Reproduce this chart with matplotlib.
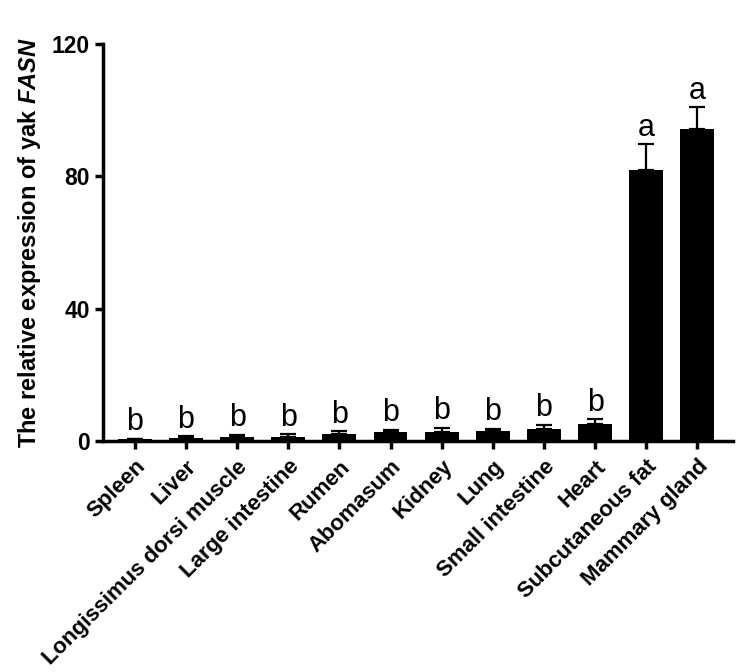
import numpy as np
import matplotlib
matplotlib.use("Agg")
import matplotlib.pyplot as plt

# Data
tissues = ['Spleen', 'Liver', 'Longissimus dorsi muscle', 'Large intestine',
           'Rumen', 'Abomasum', 'Kidney', 'Lung', 'Small intestine', 'Heart',
           'Subcutaneous fat', 'Mammary gland']
expression = [0.5, 1.0, 1.2, 1.2, 2.0, 2.6, 2.8, 3.0, 3.6, 5.2, 81.9, 94.3]
errors = [0.2, 0.5, 0.7, 0.9, 1.0, 0.8, 1.2, 0.7, 1.3, 1.3, 7.8, 6.6]
letters = ['b', 'b', 'b', 'b', 'b', 'b', 'b', 'b', 'b', 'b', 'a', 'a']
y_ticks = [0, 40, 80, 120]

plt.rcParams['font.family'] = 'Liberation Sans'
plt.rcParams['mathtext.fontset'] = 'custom'
plt.rcParams['mathtext.bfit'] = 'Liberation Sans:bold:italic'
plt.rcParams['mathtext.it'] = 'Liberation Sans:italic'
plt.rcParams['mathtext.bf'] = 'Liberation Sans:bold'
plt.rcParams['mathtext.rm'] = 'Liberation Sans'

fig = plt.figure(figsize=(7.42, 6.72), dpi=100)
ax = fig.add_axes([0.139, 0.344, 0.849, 0.5905])

x = np.arange(len(tissues))
ax.bar(x, expression, width=0.66, color='black', zorder=2)
ax.errorbar(x, expression, yerr=[np.zeros(len(errors)), errors], fmt='none',
            ecolor='black', elinewidth=1.6, capsize=6, capthick=1.6, zorder=1)

# significance letters
for xi, val, err, let in zip(x, expression, errors, letters):
    ax.annotate(let, (xi, val + err), xytext=(0, 6), textcoords='offset points',
                ha='center', va='baseline', fontsize=22)

ax.set_xlim(-0.62, 11.7)
ax.set_ylim(0, 120)
ax.set_yticks(y_ticks)
ax.set_yticklabels([str(t) for t in y_ticks], fontsize=16.5, fontweight='bold')
ax.set_xticks(x)
ax.set_xticklabels(tissues, rotation=45, ha='right', rotation_mode='anchor',
                   fontsize=16, fontweight='bold')

ax.set_ylabel(r'The relative expression of yak $\bfit{FASN}$', fontsize=17,
              fontweight='bold', labelpad=6)

for side in ['top', 'right']:
    ax.spines[side].set_visible(False)
for side in ['left', 'bottom']:
    ax.spines[side].set_linewidth(2.5)
ax.tick_params(axis='both', length=6, width=2.5, direction='out')
ax.tick_params(axis='x', pad=5)

fig.savefig('out.png', dpi=100)
